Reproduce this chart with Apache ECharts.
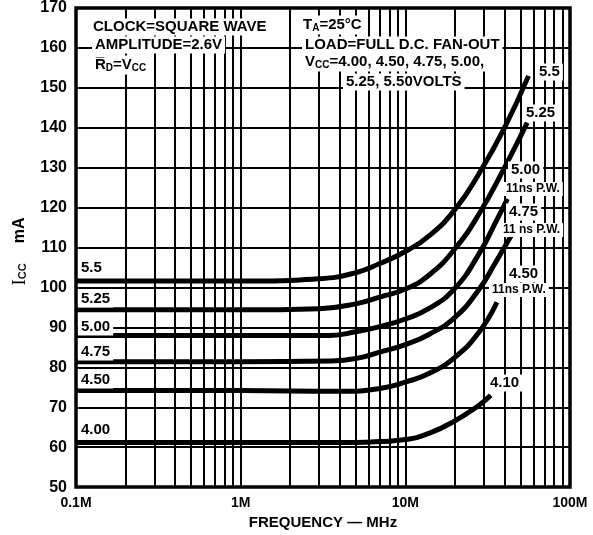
<!DOCTYPE html>
<html>
<head>
<meta charset="utf-8">
<script src="https://cdn.jsdelivr.net/npm/echarts@6/dist/echarts.min.js"></script>
<style>
  html, body { margin: 0; padding: 0; background: #fff; }
  #chart { width: 593px; height: 535px; }
</style>
</head>
<body>
<div id="chart"></div>
<script>
// frequency (MHz) / supply current (mA)
const freq550 = [0.1, 1, 3, 5, 7, 10, 14, 20, 28, 40, 56];
const icc550  = [101.6, 101.6, 102.2, 103.7, 106, 109, 113, 119.5, 128.5, 140, 153];
const freq525 = [0.1, 1, 3, 5, 7, 10, 14, 20, 28, 40, 55];
const icc525  = [94.4, 94.4, 94.7, 95.9, 97.6, 99.6, 103.2, 109.7, 118.4, 130, 141.3];
const freq500 = [0.1, 1, 3.5, 5, 7, 10, 14, 20, 28, 35, 41.7];
const icc500  = [88, 88, 88, 88.9, 90.2, 92.1, 94.8, 99.8, 108.4, 116, 122.2];
const freq475 = [0.1, 1, 3.5, 5, 7, 10, 14, 20, 28, 35, 44];
const icc475  = [81.4, 81.4, 81.6, 82.2, 83.8, 85.7, 88.3, 92.5, 99.5, 106, 113];
const freq450 = [0.1, 1, 4, 7, 10, 14, 20, 28, 36];
const icc450  = [74.2, 74.2, 74, 74.7, 76.3, 78.5, 82.5, 88.8, 96.3];
const freq400 = [0.1, 1, 5, 7, 10, 14, 20, 28, 33];
const icc400  = [61.2, 61.2, 61.2, 61.4, 61.9, 63.5, 66.6, 70.5, 73];

const leftLabels = ['5.5', '5.25', '5.00', '4.75', '4.50', '4.00'];
const minorFreq = [0.2, 0.3, 0.4, 0.5, 0.6, 0.7, 0.8, 0.9,
                   2, 3, 4, 5, 6, 7, 8, 9,
                   20, 30, 40, 50, 60, 70, 80, 90];

const FF = '"Liberation Sans", "DejaVu Sans", Arial, sans-serif';

const zip = (f, v) => f.map((x, i) => [x, v[i]]);
const curves = [
  zip(freq550, icc550), zip(freq525, icc525), zip(freq500, icc500),
  zip(freq475, icc475), zip(freq450, icc450), zip(freq400, icc400)
];

// text boxes on white background, like the paper chart
function note(x, y, text, size, rich) {
  const style = {
    text: text, font: 'bold ' + size + 'px ' + FF, fill: '#000',
    backgroundColor: '#fff', padding: [1, 3], align: 'left', verticalAlign: 'middle'
  };
  if (rich) style.rich = rich;
  return { type: 'text', x: x, y: y, z: 20, silent: true, style: style };
}
const sub = {
  n: { font: 'bold 15px ' + FF },
  s: { font: 'bold 10px ' + FF, padding: [7, 0, 0, 0] }
};

const chart = echarts.init(document.getElementById('chart'));

const series = [{
  type: 'line', data: [], z: 1, silent: true,
  markLine: {
    silent: true, symbol: 'none', animation: false,
    label: { show: false },
    lineStyle: { color: '#000', width: 2, type: 'solid' },
    data: minorFreq.map(f => ({ xAxis: f }))
  }
}];
curves.forEach(d => {
  series.push({
    type: 'line', data: d, z: 5, silent: true,
    smooth: 0.5, showSymbol: false, symbol: 'none',
    lineStyle: { color: '#000', width: 5 }
  });
});

const leftY = [268, 299, 327, 352, 380, 430];

chart.setOption({
  animation: false,
  backgroundColor: '#fff',
  grid: {
    left: 76, right: 23, top: 7, bottom: 47,
    show: true, borderColor: '#000', borderWidth: 3.5, backgroundColor: '#fff'
  },
  xAxis: {
    type: 'log', logBase: 10, min: 0.1, max: 100,
    axisLine: { show: false }, axisTick: { show: false },
    splitLine: { show: true, lineStyle: { color: '#000', width: 2 } },
    axisLabel: {
      color: '#000', fontWeight: 'bold', fontSize: 14, fontFamily: FF, margin: 9,
      formatter: v => (+(+v).toPrecision(2)) + 'M'
    },
    name: 'FREQUENCY — MHz', nameLocation: 'middle', nameGap: 26,
    nameTextStyle: { color: '#000', fontWeight: 'bold', fontSize: 15, fontFamily: FF }
  },
  yAxis: {
    type: 'value', min: 50, max: 170, interval: 10,
    axisLine: { show: false }, axisTick: { show: false },
    splitLine: { show: true, lineStyle: { color: '#000', width: 2 } },
    axisLabel: { color: '#000', fontWeight: 'bold', fontSize: 16, fontFamily: FF, margin: 9 },
    name: '{i|I}{s|CC}      {n|mA}', nameLocation: 'middle', nameGap: 40,
    nameTextStyle: {
      color: '#000', fontFamily: FF, padding: [0, 8, 0, 0],
      rich: {
        i: { fontSize: 19, fontFamily: '"Liberation Serif", serif' },
        s: { fontSize: 11, fontWeight: 'bold', fontFamily: FF, padding: [7, 0, 0, 0] },
        n: { fontSize: 16, fontWeight: 'bold', fontFamily: FF }
      }
    }
  },
  series: series,
  graphic: [
    note(90, 27, 'CLOCK=SQUARE WAVE', 15),
    note(92, 45, 'AMPLITUDE=2.6V', 15),
    note(92, 65, '{n|R\u0305}{s|D}{n|=V}{s|CC}', 15, sub),
    note(300, 25, '{n|T}{s|A}{n|=25°C}', 15, sub),
    note(302, 45, 'LOAD=FULL D.C. FAN-OUT', 15),
    note(302, 62, '{n|V}{s|CC}{n|=4.00, 4.50, 4.75, 5.00,}', 15, sub),
    note(343, 82, '5.25, 5.50VOLTS', 15),
    note(536, 72, '5.5', 15),
    note(523, 113, '5.25', 15),
    note(508, 170, '5.00', 15),
    note(503, 189, '11ns P.W.', 12),
    note(506, 212, '4.75', 15),
    note(500, 230, '11 ns P.W.', 12),
    note(506, 274, '4.50', 15),
    note(489, 290, '11ns P.W.', 12),
    note(487, 383, '4.10', 15)
  ].concat(leftLabels.map((t, i) => note(78, leftY[i], t, 15)))
});
</script>
</body>
</html>
